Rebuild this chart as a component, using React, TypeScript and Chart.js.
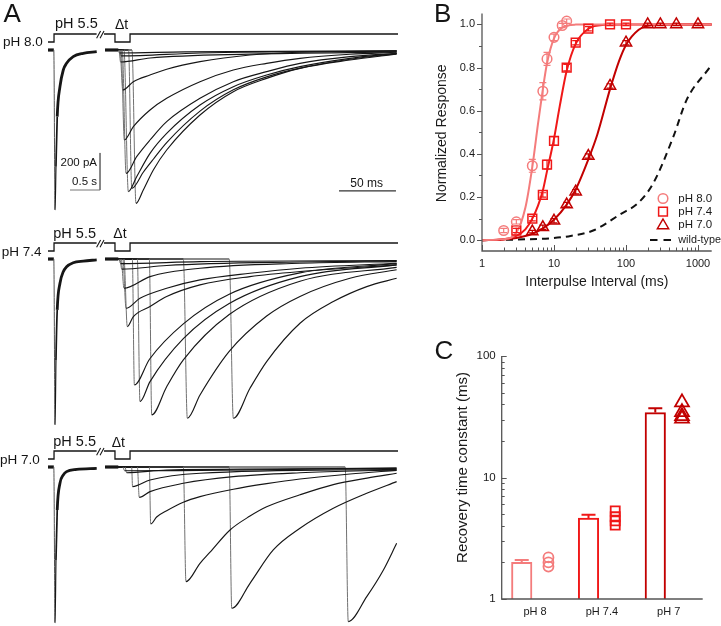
import React, { useEffect, useRef } from 'react';
import { Chart, registerables } from 'chart.js';

Chart.register(...registerables);

const FONT = '"Liberation Sans", Arial, Helvetica, sans-serif';
Chart.defaults.font.family = FONT;
const INK = '#161616';
const AXIS = '#555555';
const COL_80 = '#F47C7C';
const COL_74 = '#F01818';
const COL_70 = '#C20000';

// ================= Panel A : current traces =================
// time in ms (0 = start of the Δt step), current in pA (0 = baseline)
const A_T_MIN = -101.64;
const A_T_MAX = 266.36;
const A_I_MIN = -896.4;
const A_I_MAX = 237.6;
const PROTO_MIN = -21.75;
const PROTO_MAX = 4.5;
const TEST_START = -9.6;

// solution protocol: 0 = holding pH, 1 = pH 5.5
const protocolSteps = [[-59.6, 0], [-54.3, 0], [-54.3, 1], [-17.0, 1], [-13.0, null], [-10.5, 1], [-0.9, 1], [-0.9, 0], [12.3, 0], [12.3, 1], [247.1, 1]];
const breakMarks = [[-17.0, 0.46], [-13.5, 1.375], [-13.8, null], [-14.0, 0.46], [-10.5, 1.375]];
const postBreakBase = [[-9.6, 0], [2.0, 0]];
const pAScaleBar = [[-14.0, -556], [-14.0, -756], [-40.3, -756]];
const msScaleBar = [[195.4, -761], [245.3, -761]];

// pH 8.0
const cond80 = [[-59.6, 0], [-54.5, 0], [-53.4, -864], [-52.6, -630], [-51.5, -360], [-49.1, -198], [-46.2, -108], [-43.3, -72], [-37.5, -36], [-28.7, -18], [-16.9, -9]];
const tests80 = [
  [[2.0, 0], [3.0, -16], [60.0, -10], [245.9, -5]],
  [[3.0, 0], [4.5, -32], [73.6, -16], [245.9, -6]],
  [[2.6, 0], [4.0, -65], [29.8, -43], [117.4, -22], [245.9, -11]],
  [[3.5, 0], [5.9, -216], [15.2, -171], [29.8, -135], [44.4, -104], [73.6, -63], [117.4, -27], [161.2, -12], [245.9, -5]],
  [[4.5, 0], [7.3, -486], [15.2, -414], [29.8, -324], [44.4, -261], [73.6, -171], [102.8, -108], [132.0, -72], [161.2, -45], [205.0, -23], [245.9, -12]],
  [[5.5, 0], [8.8, -666], [18.1, -576], [29.8, -486], [44.4, -387], [73.6, -261], [102.8, -171], [132.0, -117], [161.2, -72], [205.0, -36], [245.9, -18]],
  [[7.0, 0], [10.8, -765], [18.1, -684], [29.8, -558], [44.4, -450], [73.6, -297], [102.8, -198], [132.0, -135], [161.2, -90], [205.0, -45], [245.9, -18]],
  [[11.0, 0], [13.8, -747], [23.9, -660], [32.7, -590], [44.4, -500], [73.6, -330], [102.8, -215], [132.0, -145], [161.2, -98], [205.0, -50], [245.9, -20]],
  [[14.0, 0], [17.5, -828], [23.9, -756], [32.7, -648], [44.4, -540], [73.6, -351], [102.8, -225], [132.0, -153], [161.2, -99], [205.0, -54], [245.9, -22]],
];

// pH 7.4
const cond74 = [[-59.6, 0], [-54.5, 0], [-53.4, -896], [-52.6, -545], [-51.5, -275], [-49.1, -131], [-46.2, -69], [-43.3, -42], [-37.5, -20], [-28.7, -11], [-16.9, -5]];
const tests74 = [
  [[2.5, 0], [4.0, -25], [73.6, -14], [245.9, -8]],
  [[3.5, 0], [5.0, -55], [44.4, -35], [161.2, -16], [245.9, -10]],
  [[4.5, 0], [7.0, -158], [29.8, -95], [73.6, -50], [161.2, -23], [245.9, -14]],
  [[6.0, 0], [8.8, -266], [21.0, -212], [44.4, -158], [73.6, -113], [117.4, -77], [161.2, -50], [245.9, -23]],
  [[7.0, 0], [9.9, -365], [15.2, -311], [29.8, -257], [44.4, -203], [73.6, -140], [117.4, -95], [161.2, -68], [245.9, -32]],
  [[14.3, 0], [16.1, -680], [29.5, -540], [59.0, -350], [99.2, -190], [161.2, -75], [245.9, -25]],
  [[18.7, 0], [21.0, -770], [29.8, -662], [59.0, -430], [99.2, -240], [161.2, -95], [245.9, -32]],
  [[29.2, 0], [31.3, -842], [44.4, -690], [59.0, -545], [99.2, -300], [161.2, -120], [245.9, -45]],
  [[59.0, 0], [62.5, -860], [73.6, -734], [99.2, -499], [132.0, -308], [161.2, -202], [205.0, -104], [245.9, -58]],
  [[99.2, 0], [102.8, -860], [117.4, -698], [132.0, -554], [161.2, -347], [190.4, -230], [219.7, -149], [245.9, -104]],
];

// pH 7.0
const cond70 = [[-59.6, 0], [-54.5, 0], [-53.4, -842], [-52.6, -502], [-51.5, -232], [-49.1, -88], [-46.2, -43], [-43.3, -25], [-34.4, -13], [-16.9, -7]];
const tests70 = [
  [[6.0, 0], [7.5, -20], [245.9, -5]],
  [[7.9, 0], [9.3, -31], [44.4, -16], [245.9, -8]],
  [[13.7, 0], [14.5, -106], [29.8, -70], [73.6, -34], [245.9, -13]],
  [[18.7, 0], [20.4, -164], [29.8, -133], [59.0, -88], [102.8, -52], [161.2, -31], [245.9, -16]],
  [[29.2, 0], [30.4, -308], [35.6, -270], [44.4, -236], [59.0, -190], [73.6, -160], [102.8, -120], [132.0, -90], [161.2, -65], [205.0, -38], [245.9, -18]],
  [[59.0, 0], [61.3, -619], [73.6, -520], [82.4, -460], [99.9, -340], [117.4, -265], [132.0, -215], [161.2, -150], [190.4, -95], [220.0, -60], [245.9, -34]],
  [[99.2, 0], [101.4, -763], [117.4, -628], [137.8, -448], [161.2, -331], [190.4, -223], [219.7, -142], [245.9, -79]],
  [[200.8, 0], [203.5, -835], [219.7, -700], [234.3, -556], [245.9, -412]],
];

// ================= Panel B : recovery curves =================
const seriesNamesB = ['pH 8.0', 'pH 7.4', 'pH 7.0'];
const wtName = 'wild-type';
const ipi80 = [2, 3, 5, 7, 8, 10, 13, 15];
const resp80 = [0.045, 0.085, 0.345, 0.69, 0.84, 0.94, 0.995, 1.015];
const err80 = [0.01, 0.01, 0.03, 0.04, 0.03, 0.015, 0.01, 0.01];
const ipi74 = [3, 5, 7, 8, 10, 15, 20, 30, 60, 100];
const resp74 = [0.045, 0.1, 0.21, 0.35, 0.46, 0.8, 0.915, 0.98, 1.0, 1.0];
const err74 = [0.01, 0.01, 0.01, 0.02, 0.02, 0.015, 0.01, 0.01, 0.006, 0.006];
const ipi70 = [5, 7, 10, 15, 20, 30, 60, 100, 200, 300, 500, 1000];
const resp70 = [0.04, 0.06, 0.09, 0.165, 0.225, 0.39, 0.715, 0.915, 1.0, 1.0, 1.0, 1.0];
const err70 = [0.006, 0.01, 0.01, 0.01, 0.01, 0.01, 0.01, 0.01, 0.006, 0.006, 0.006, 0.006];

const fit80X = [1, 2, 3, 4, 5, 6, 7, 8, 10, 13, 20, 40, 1550];
const fit80Y = [0, 0.005, 0.035, 0.15, 0.34, 0.54, 0.7, 0.82, 0.935, 0.985, 0.999, 1, 1];
const fit74X = [1, 2, 3, 4, 5, 6, 7, 8, 10, 12, 15, 20, 30, 50, 100, 1550];
const fit74Y = [0, 0.004, 0.02, 0.05, 0.1, 0.16, 0.23, 0.32, 0.47, 0.62, 0.785, 0.91, 0.98, 0.998, 1, 1];
const fit70X = [1, 2, 3, 5, 7, 10, 15, 20, 30, 40, 60, 80, 100, 150, 200, 300, 1550];
const fit70Y = [0, 0.003, 0.01, 0.03, 0.055, 0.095, 0.165, 0.235, 0.375, 0.49, 0.7, 0.83, 0.905, 0.975, 0.993, 1, 1];
const wtX = [1, 3, 10, 17, 35, 83, 150, 240, 455, 695, 1450];
const wtY = [0, 0.003, 0.01, 0.02, 0.045, 0.12, 0.175, 0.265, 0.48, 0.65, 0.8];

const bXTicks = [1, 10, 100, 1000];
const bYTicks = [0, 0.2, 0.4, 0.6, 0.8, 1.0];

// ================= Panel C : recovery time constants =================
const groupsC = ['pH 8', 'pH 7.4', 'pH 7'];
const tauMean = [2.0, 4.63, 34.2];
const tauSem = [0.09, 0.3, 3.0];
const tauCells80 = [2.2, 2.0, 1.85];
const tauCells74 = [5.3, 4.75, 4.4, 4.05];
const tauCells70 = [41.5, 34.5, 32, 30.5];
const cYTicks = [1, 10, 100];

// ---------------------------------------------------------------
function toXY(pts: any[]) {
  return pts.map((p) => ({ x: p[0], y: p[1] }));
}
function zipXY(xs: number[], ys: number[]) {
  return xs.map((x, i) => ({ x, y: ys[i] }));
}

function lineDs(data: any[], extra: any = {}) {
  return {
    data: toXY(data),
    showLine: true,
    pointRadius: 0,
    pointHoverRadius: 0,
    borderColor: INK,
    borderWidth: 1,
    tension: 0,
    spanGaps: false,
    clip: false,
    ...extra,
  };
}

function traceConfig(cond: any[], tests: any[], withScaleBars: boolean) {
  const datasets: any[] = [];
  datasets.push(lineDs(protocolSteps, { yAxisID: 'yp', borderWidth: 1.3 }));
  datasets.push(lineDs(breakMarks, { yAxisID: 'yp', borderWidth: 1.1 }));
  datasets.push(lineDs(postBreakBase, { borderWidth: 3.2 }));
  tests.forEach((tr) => {
    datasets.push(
      lineDs([[TEST_START, 0], ...tr], {
        cubicInterpolationMode: 'monotone',
        borderWidth: 1.15,
        segment: {
          borderColor: (c: any) => (c.p0DataIndex === 1 ? '#707070' : INK),
          borderWidth: (c: any) => (c.p0DataIndex === 1 ? 1 : 1.15),
        },
      })
    );
  });
  datasets.push(
    lineDs(cond, {
      cubicInterpolationMode: 'monotone',
      segment: {
        borderWidth: (c: any) => {
          const w = [3.2, 1, 1.2, 1.7][c.p0DataIndex];
          return w === undefined ? 2.8 : w;
        },
        borderColor: (c: any) => (c.p0DataIndex === 1 ? '#505050' : INK),
      },
    })
  );
  if (withScaleBars) {
    datasets.push(lineDs(pAScaleBar, { borderColor: '#777', borderWidth: 1 }));
    datasets.push(lineDs(msScaleBar, { borderColor: '#333', borderWidth: 1.2 }));
  }
  return {
    type: 'scatter',
    data: { datasets },
    options: {
      animation: false,
      responsive: false,
      devicePixelRatio: 1,
      events: [],
      layout: { padding: 0 },
      plugins: { legend: { display: false }, tooltip: { enabled: false } },
      scales: {
        x: { type: 'linear', display: false, min: A_T_MIN, max: A_T_MAX },
        y: { type: 'linear', display: false, min: A_I_MIN, max: A_I_MAX },
        yp: { type: 'linear', display: false, min: PROTO_MIN, max: PROTO_MAX },
      },
    },
  };
}

// ---------------- Panel B ----------------
function drawMarker(ctx: CanvasRenderingContext2D, style: string, x: number, y: number, r: number) {
  ctx.beginPath();
  if (style === 'circle') {
    ctx.arc(x, y, r, 0, Math.PI * 2);
  } else if (style === 'rect') {
    const s = r * Math.SQRT1_2;
    ctx.rect(x - s, y - s, 2 * s, 2 * s);
  } else {
    ctx.moveTo(x, y - r);
    ctx.lineTo(x + r * 0.866, y + r * 0.5);
    ctx.lineTo(x - r * 0.866, y + r * 0.5);
    ctx.closePath();
  }
  ctx.stroke();
}

const panelBPlugin = {
  id: 'panelB',
  afterDatasetsDraw(chart: any) {
    const ctx = chart.ctx;
    const ys = chart.scales.y;
    chart.data.datasets.forEach((ds: any, i: number) => {
      if (!ds.errs) return;
      const meta = chart.getDatasetMeta(i);
      ctx.save();
      ctx.strokeStyle = ds.borderColor;
      ctx.lineWidth = 1.2;
      meta.data.forEach((pt: any, j: number) => {
        const v = ds.data[j].y;
        const e = ds.errs[j];
        const y1 = ys.getPixelForValue(v + e);
        const y2 = ys.getPixelForValue(v - e);
        ctx.beginPath();
        ctx.moveTo(pt.x, y1);
        ctx.lineTo(pt.x, y2);
        ctx.moveTo(pt.x - 3.5, y1);
        ctx.lineTo(pt.x + 3.5, y1);
        ctx.moveTo(pt.x - 3.5, y2);
        ctx.lineTo(pt.x + 3.5, y2);
        ctx.stroke();
      });
      ctx.restore();
    });
  },
  afterDraw(chart: any) {
    const ctx = chart.ctx;
    const a = chart.chartArea;
    const xs = chart.scales.x;
    const ys = chart.scales.y;
    ctx.save();
    ctx.strokeStyle = AXIS;
    ctx.lineWidth = 1.3;
    ctx.beginPath();
    ctx.moveTo(a.left, a.top);
    ctx.lineTo(a.left, a.bottom);
    ctx.lineTo(a.right, a.bottom);
    ctx.stroke();
    ctx.lineWidth = 1;
    ctx.beginPath();
    // x ticks (inward)
    for (let d = 1; d <= 1000; d *= 10) {
      for (let m = 1; m <= 9; m++) {
        const v = d * m;
        if (v > xs.max) break;
        const px = Math.round(xs.getPixelForValue(v)) + 0.5;
        const len = m === 1 ? 6 : 3.5;
        ctx.moveTo(px, a.bottom);
        ctx.lineTo(px, a.bottom - len);
      }
    }
    // y ticks (outward)
    for (let k = 0; k <= 10; k++) {
      const v = k / 10;
      const py = Math.round(ys.getPixelForValue(v)) + 0.5;
      const len = k % 2 === 0 ? 5 : 3;
      ctx.moveTo(a.left, py);
      ctx.lineTo(a.left - len, py);
    }
    ctx.stroke();

    // axis titles
    ctx.fillStyle = '#1a1a1a';
    ctx.font = `14px ${FONT}`;
    ctx.textAlign = 'center';
    ctx.textBaseline = 'middle';
    ctx.fillText('Interpulse Interval (ms)', (a.left + a.right) / 2, 282);
    ctx.save();
    ctx.translate(17, (a.top + a.bottom) / 2 + 1);
    ctx.rotate(-Math.PI / 2);
    ctx.fillText('Normalized Response', 0, 0);
    ctx.restore();

    // legend
    const rows = [
      { y: 198.5, ty: 198.5, style: 'circle', color: COL_80, r: 4.8, text: seriesNamesB[0] },
      { y: 211.7, ty: 211.7, style: 'rect', color: COL_74, r: 6.2, text: seriesNamesB[1] },
      { y: 225.5, ty: 224.5, style: 'triangle', color: COL_70, r: 6.5, text: seriesNamesB[2] },
    ];
    ctx.lineWidth = 1.5;
    ctx.font = `11.5px ${FONT}`;
    ctx.textAlign = 'left';
    rows.forEach((r) => {
      ctx.strokeStyle = r.color;
      drawMarker(ctx, r.style, 238, r.y, r.r);
      ctx.fillStyle = '#1a1a1a';
      ctx.fillText(r.text, 253.3, r.ty);
    });
    ctx.strokeStyle = '#111';
    ctx.lineWidth = 2;
    ctx.setLineDash([7.5, 6]);
    ctx.beginPath();
    ctx.moveTo(225, 240);
    ctx.lineTo(247, 240);
    ctx.stroke();
    ctx.setLineDash([]);
    ctx.fillStyle = '#1a1a1a';
    ctx.font = `10.8px ${FONT}`;
    ctx.fillText(wtName, 253.3, 240);
    ctx.restore();
  },
};

function markerDs(xs: number[], ys: number[], errs: number[], color: string, style: string, r: number) {
  return {
    data: zipXY(xs, ys),
    errs,
    showLine: false,
    pointStyle: style,
    pointRadius: r,
    pointHoverRadius: r,
    pointBorderWidth: 1.5,
    borderColor: color,
    pointBorderColor: color,
    backgroundColor: 'rgba(255,255,255,0)',
    pointBackgroundColor: 'rgba(255,255,255,0)',
    clip: false,
  };
}
function fitDs(xs: number[], ys: number[], color: string, extra: any = {}) {
  return {
    data: zipXY(xs, ys),
    showLine: true,
    pointRadius: 0,
    pointHoverRadius: 0,
    borderColor: color,
    borderWidth: 2,
    cubicInterpolationMode: 'monotone',
    clip: false,
    ...extra,
  };
}

function panelBConfig() {
  return {
    type: 'scatter',
    data: {
      datasets: [
        markerDs(ipi80, resp80, err80, COL_80, 'circle', 4.8),
        markerDs(ipi74, resp74, err74, COL_74, 'rect', 6.2),
        markerDs(ipi70, resp70, err70, COL_70, 'triangle', 6.5),
        fitDs(fit80X, fit80Y, COL_80),
        fitDs(fit74X, fit74Y, COL_74),
        fitDs(fit70X, fit70Y, COL_70),
        fitDs(wtX, wtY, '#111', { borderDash: [7, 5] }),
      ],
    },
    options: {
      animation: false,
      responsive: false,
      devicePixelRatio: 1,
      events: [],
      layout: { padding: { top: 7.2, right: 9.3, left: 0, bottom: 0 } },
      plugins: { legend: { display: false }, tooltip: { enabled: false } },
      scales: {
        x: {
          type: 'logarithmic',
          min: 1,
          max: 1550,
          grid: { display: false, drawTicks: false },
          border: { display: false },
          afterBuildTicks: (s: any) => {
            s.ticks = bXTicks.map((v) => ({ value: v }));
          },
          afterFit: (s: any) => {
            s.height = 49;
          },
          ticks: {
            autoSkip: false,
            maxRotation: 0,
            padding: 6,
            color: '#1a1a1a',
            font: { size: 11, family: FONT },
            callback: (v: any) => String(v),
          },
        },
        y: {
          type: 'linear',
          min: -0.05,
          max: 1.05,
          grid: { display: false, drawTicks: false },
          border: { display: false },
          afterBuildTicks: (s: any) => {
            s.ticks = bYTicks.map((v) => ({ value: v }));
          },
          afterFit: (s: any) => {
            s.width = 57;
          },
          ticks: {
            padding: 7,
            color: '#1a1a1a',
            font: { size: 11, family: FONT },
            callback: (v: any) => Number(v).toFixed(1),
          },
        },
      },
    },
    plugins: [panelBPlugin],
  };
}

// ---------------- Panel C ----------------
const panelCPlugin = {
  id: 'panelC',
  afterDatasetsDraw(chart: any) {
    const ctx = chart.ctx;
    const ys = chart.scales.y;
    chart.data.datasets.forEach((ds: any, i: number) => {
      if (!ds.sems) return;
      const meta = chart.getDatasetMeta(i);
      ctx.save();
      ctx.lineWidth = 2;
      meta.data.forEach((bar: any, j: number) => {
        const top = ys.getPixelForValue(tauMean[j]);
        const up = ys.getPixelForValue(tauMean[j] + ds.sems[j]);
        ctx.strokeStyle = ds.borderColor[j];
        ctx.beginPath();
        ctx.moveTo(bar.x, top);
        ctx.lineTo(bar.x, up);
        ctx.moveTo(bar.x - 7, up);
        ctx.lineTo(bar.x + 7, up);
        ctx.stroke();
      });
      ctx.restore();
    });
  },
  afterDraw(chart: any) {
    const ctx = chart.ctx;
    const a = chart.chartArea;
    const ys = chart.scales.y;
    ctx.save();
    ctx.strokeStyle = AXIS;
    ctx.lineWidth = 1.3;
    ctx.beginPath();
    ctx.moveTo(a.left, a.top);
    ctx.lineTo(a.left, a.bottom);
    ctx.lineTo(a.right, a.bottom);
    ctx.stroke();
    ctx.lineWidth = 1;
    ctx.beginPath();
    for (let d = 1; d <= 100; d *= 10) {
      for (let m = 1; m <= 9; m++) {
        const v = d * m;
        if (v > 100) break;
        const py = Math.round(ys.getPixelForValue(v)) + 0.5;
        const len = m === 1 ? 5 : 3;
        ctx.moveTo(a.left, py);
        ctx.lineTo(a.left + len, py);
      }
    }
    ctx.stroke();
    ctx.fillStyle = '#1a1a1a';
    ctx.font = `15px ${FONT}`;
    ctx.textAlign = 'center';
    ctx.textBaseline = 'middle';
    ctx.save();
    ctx.translate(38.3, 167.5);
    ctx.rotate(-Math.PI / 2);
    ctx.fillText('Recovery time constant (ms)', 0, 0);
    ctx.restore();
    ctx.restore();
  },
};

function cellDs(group: number, vals: number[], color: string, style: string, r: number) {
  return {
    type: 'scatter',
    data: vals.map((v) => ({ x: group + 0.2, y: v })),
    showLine: false,
    pointStyle: style,
    pointRadius: r,
    pointHoverRadius: r,
    pointBorderWidth: 1.8,
    borderColor: color,
    pointBorderColor: color,
    backgroundColor: 'rgba(255,255,255,0)',
    pointBackgroundColor: 'rgba(255,255,255,0)',
    clip: false,
    order: 0,
  };
}

function panelCConfig() {
  return {
    type: 'bar',
    data: {
      datasets: [
        cellDs(0, tauCells80, COL_80, 'circle', 5),
        cellDs(1, tauCells74, COL_74, 'rect', 6.4),
        cellDs(2, tauCells70, COL_70, 'triangle', 8),
        {
          type: 'bar',
          data: tauMean.map((v, i) => ({ x: i - 0.2, y: v })),
          sems: tauSem,
          backgroundColor: '#ffffff',
          borderColor: [COL_80, COL_74, COL_70],
          borderWidth: 2,
          barThickness: 20.5,
          order: 1,
        },
      ],
    },
    options: {
      animation: false,
      responsive: false,
      devicePixelRatio: 1,
      events: [],
      layout: { padding: { top: 56, right: 18.3, left: 0, bottom: 0 } },
      plugins: { legend: { display: false }, tooltip: { enabled: false } },
      scales: {
        x: {
          type: 'linear',
          min: -0.5,
          max: 2.51,
          offset: false,
          grid: { display: false, drawTicks: false },
          border: { display: false },
          afterBuildTicks: (s: any) => {
            s.ticks = groupsC.map((_, i) => ({ value: i }));
          },
          afterFit: (s: any) => {
            s.height = 27;
          },
          ticks: {
            autoSkip: false,
            maxRotation: 0,
            padding: 6,
            color: '#1a1a1a',
            font: { size: 11, family: FONT },
            callback: (v: any) => groupsC[Math.round(Number(v))],
          },
        },
        y: {
          type: 'logarithmic',
          min: 1,
          max: 100,
          grid: { display: false, drawTicks: false },
          border: { display: false },
          afterBuildTicks: (s: any) => {
            s.ticks = cYTicks.map((v) => ({ value: v }));
          },
          afterFit: (s: any) => {
            s.width = 76.7;
          },
          ticks: {
            padding: 6,
            color: '#1a1a1a',
            font: { size: 11.5, family: FONT },
            callback: (v: any) => String(v),
          },
        },
      },
    },
    plugins: [panelCPlugin],
  };
}

// ---------------------------------------------------------------
function ChartCanvas(props: { left: number; top: number; width: number; height: number; make: () => any }) {
  const ref = useRef<HTMLCanvasElement>(null);
  useEffect(() => {
    const chart = new Chart(ref.current as HTMLCanvasElement, props.make());
    return () => chart.destroy();
  }, []);
  return (
    <canvas
      ref={ref}
      width={props.width}
      height={props.height}
      style={{ position: 'absolute', left: props.left, top: props.top, width: props.width, height: props.height }}
    />
  );
}

function Txt(props: { x: number; y: number; size: number; text: string; align?: 'left' | 'center' | 'right' }) {
  const { x, y, size, text, align = 'left' } = props;
  const tx = align === 'center' ? 'translateX(-50%)' : align === 'right' ? 'translateX(-100%)' : 'none';
  return (
    <div
      style={{
        position: 'absolute',
        left: x,
        top: y - 0.8465 * size,
        fontFamily: FONT,
        fontSize: size,
        lineHeight: `${size}px`,
        whiteSpace: 'nowrap',
        color: '#141414',
        transform: tx,
      }}
    >
      {text}
    </div>
  );
}

export default function App() {
  return (
    <div
      style={{
        position: 'fixed',
        left: 0,
        top: 0,
        width: 721,
        height: 626,
        overflow: 'hidden',
        background: '#ffffff',
      }}
    >
      <ChartCanvas left={0} top={6} width={420} height={210} make={() => traceConfig(cond80, tests80, true)} />
      <ChartCanvas left={0} top={215} width={420} height={210} make={() => traceConfig(cond74, tests74, false)} />
      <ChartCanvas left={0} top={423} width={420} height={210} make={() => traceConfig(cond70, tests70, false)} />
      <ChartCanvas left={425} top={0} width={296} height={300} make={panelBConfig} />
      <ChartCanvas left={425} top={300} width={296} height={326} make={panelCConfig} />

      <Txt x={3.5} y={21.5} size={26} text="A" />
      <Txt x={434} y={21.5} size={26} text="B" />
      <Txt x={434.5} y={359.5} size={26} text="C" />

      <Txt x={3} y={46.7} size={13.5} text="pH 8.0" />
      <Txt x={55} y={28.5} size={14.5} text="pH 5.5" />
      <Txt x={115} y={28.5} size={14} text="Δt" />
      <Txt x={97} y={166.5} size={11.5} text="200 pA" align="right" />
      <Txt x={97} y={185.5} size={11.5} text="0.5 s" align="right" />
      <Txt x={366.7} y={186.7} size={12} text="50 ms" align="center" />

      <Txt x={1.7} y={256.7} size={13.5} text="pH 7.4" />
      <Txt x={53.3} y={238.3} size={14.5} text="pH 5.5" />
      <Txt x={113.3} y={238.3} size={14} text="Δt" />

      <Txt x={0} y={464.5} size={13.5} text="pH 7.0" />
      <Txt x={53.3} y={446.7} size={14.5} text="pH 5.5" />
      <Txt x={111.7} y={446.7} size={14} text="Δt" />
    </div>
  );
}
